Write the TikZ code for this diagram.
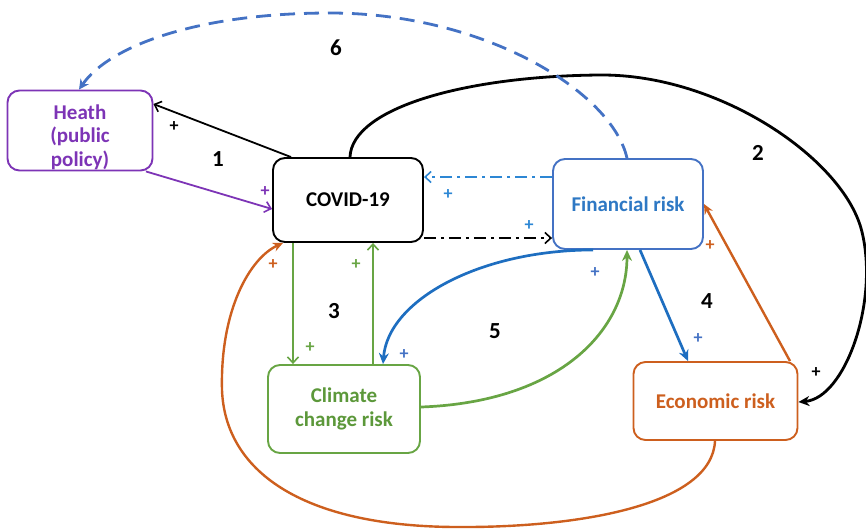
\documentclass[tikz,border=0pt]{standalone}
\usepackage{fontspec}
\setmainfont{Carlito}
\usetikzlibrary{arrows.meta,calc}
\definecolor{cpurple}{RGB}{125,52,182}
\definecolor{cboxblue}{RGB}{68,114,196}
\definecolor{ctextblue}{RGB}{46,120,196}
\definecolor{carrblue}{RGB}{30,110,192}
\definecolor{cdashblue}{RGB}{45,135,212}
\definecolor{cgreen}{RGB}{104,165,68}
\definecolor{ctextgreen}{RGB}{92,152,58}
\definecolor{corange}{RGB}{205,95,30}
\tikzset{
  box/.style={draw, rounded corners=12pt, line width=1.9pt, align=center,
    font=\fontsize{21}{24.5}\selectfont\bfseries, fill=white, inner sep=0pt},
  boxtext/.style={align=center, font=\fontsize{21}{23.5}\selectfont\bfseries, inner sep=0pt},
  num/.style={font=\fontsize{23}{25}\selectfont\bfseries},
  plus/.style={font=\fontsize{18}{18}\selectfont\bfseries, inner sep=0pt},
  thinarr/.style={line width=1.8pt, -{Straight Barb[length=6pt,width=11pt,line width=1.6pt]}},
  thickarr/.style={line width=2.7pt, -{Stealth[length=11pt,width=10pt]}},
  dashdot/.style={line width=1.8pt, dash pattern=on 12pt off 5pt on 3pt off 5pt,
    -{Straight Barb[length=6pt,width=11pt,line width=1.6pt]}}
}
\begin{document}
\begin{tikzpicture}[x=1pt,y=-1pt]
\useasboundingbox (0,0) rectangle (866,531);
% boxes
\node[box, draw=cpurple, minimum width=145pt, minimum height=80pt] (hea) at (80,130.5) {};
\node[boxtext, text=cpurple] (heatext) at (80,137) {Heath\\(public\\policy)};
\node[box, draw=black, text=black, minimum width=150pt, minimum height=84pt] (cov) at (348,200) {COVID-19};
\node[box, draw=cboxblue, text=ctextblue, minimum width=150pt, minimum height=90pt] (fin) at (628,204) {Financial risk};
\node[box, draw=cgreen, text=ctextgreen, minimum width=152pt, minimum height=88pt] (cli) at (344,409) {Climate\\change risk};
\node[box, draw=corange, text=corange, minimum width=164pt, minimum height=78pt] (eco) at (715.5,401) {Economic risk};

% coordinates on boxes
\coordinate (covTL) at (291,0 |- cov.north);
\coordinate (covTop) at (350,0 |- cov.north);
\coordinate (heaR) at (hea.east |- 0,104);
\coordinate (heaBR) at (146,0 |- hea.south);
\coordinate (covL) at (cov.west |- 0,209);
\coordinate (finTop) at (627,0 |- fin.north);
\coordinate (heaTop) at (79,0 |- hea.north);
\coordinate (finL1) at (fin.west |- 0,177);
\coordinate (covR1) at (cov.east |- 0,177);
\coordinate (covR2) at (cov.east |- 0,238);
\coordinate (finL2) at (fin.west |- 0,238);
\coordinate (covB1) at (293,0 |- cov.south);
\coordinate (cliT1) at (293,0 |- cli.north);
\coordinate (covB2) at (373,0 |- cov.south);
\coordinate (cliT2) at (373,0 |- cli.north);
\coordinate (ecoR) at (eco.east |- 0,402);
\coordinate (ecoB) at (715,0 |- eco.south);
\coordinate (covBL) at (283,0 |- cov.south);
\coordinate (ecoTR) at (790,0 |- eco.north);
\coordinate (finR) at (fin.east |- 0,204);
\coordinate (finBL) at (593,0 |- fin.south);
\coordinate (cliT3) at (383,0 |- cli.north);
\coordinate (cliR) at (cli.east |- 0,407);
\coordinate (finB) at (627,0 |- fin.south);
\coordinate (finB2) at (640,0 |- fin.south);
\coordinate (ecoT) at (688,0 |- eco.north);

% 1
\draw[thinarr, black] (covTL) -- (heaR);
\draw[thinarr, cpurple] (heaBR) -- (covL);
% 2
\draw[line width=2.8pt, -{Stealth[length=11pt,width=10pt]}] (covTop)
  .. controls (352,108) and (465,76) .. (600,75)
  .. controls (720,74) and (845,160) .. (862,232)
  .. controls (879,302) and (845,398) .. (ecoR);
% 6
\draw[line width=2.8pt, cboxblue, dash pattern=on 15pt off 9pt, -{Stealth[length=10pt,width=10pt]}] (finTop)
  .. controls (612,92) and (485,13) .. (330,13)
  .. controls (200,13) and (110,45) .. (heaTop);
% dash dot
\draw[dashdot, cdashblue] (finL1) -- (covR1);
\draw[dashdot, black] (covR2) -- (finL2);
% 3
\draw[thinarr, cgreen] (covB1) -- (cliT1);
\draw[thinarr, cgreen] (cliT2) -- (covB2);
% orange loop
\draw[line width=2.4pt, corange, -{Stealth[length=10pt,width=9pt]}] (ecoB)
  .. controls (712,505) and (580,528) .. (455,527)
  .. controls (300,526) and (225,470) .. (222,390)
  .. controls (220,310) and (250,258) .. (covBL);
\draw[line width=2.4pt, corange, -{Stealth[length=10pt,width=9pt]}] (ecoTR) -- (finR);
% 5
\draw[thickarr, carrblue] (finBL) .. controls (480,250) and (388,300) .. (cliT3);
\draw[thickarr, cgreen] (cliR) .. controls (560,402) and (627,330) .. (finB);
% 4
\draw[thickarr, carrblue] (finB2) -- (ecoT);

% numbers
\node[num] (n1) at (218,159) {1};
\node[num] (n2) at (758,153) {2};
\node[num] (n3) at (334,311) {3};
\node[num] (n4) at (707,301) {4};
\node[num] (n5) at (495,331) {5};
\node[num] (n6) at (336,48) {6};

% plus signs
\node[plus, black] (p1) at (174,127) {+};
\node[plus, cpurple] (p2) at (265,192) {+};
\node[plus, cdashblue] (p3) at (448,195) {+};
\node[plus, cdashblue] (p4) at (529,226) {+};
\node[plus, cgreen] (p5) at (310,348) {+};
\node[plus, cgreen] (p6) at (356,265) {+};
\node[plus, corange] (p7) at (273,265) {+};
\node[plus, corange] (p8) at (710,246) {+};
\node[plus, cboxblue] (p9) at (404,355) {+};
\node[plus, cboxblue] (p10) at (595,273) {+};
\node[plus, cboxblue] (p11) at (698,339) {+};
\node[plus, black] (p12) at (816,373) {+};
\end{tikzpicture}
\end{document}
